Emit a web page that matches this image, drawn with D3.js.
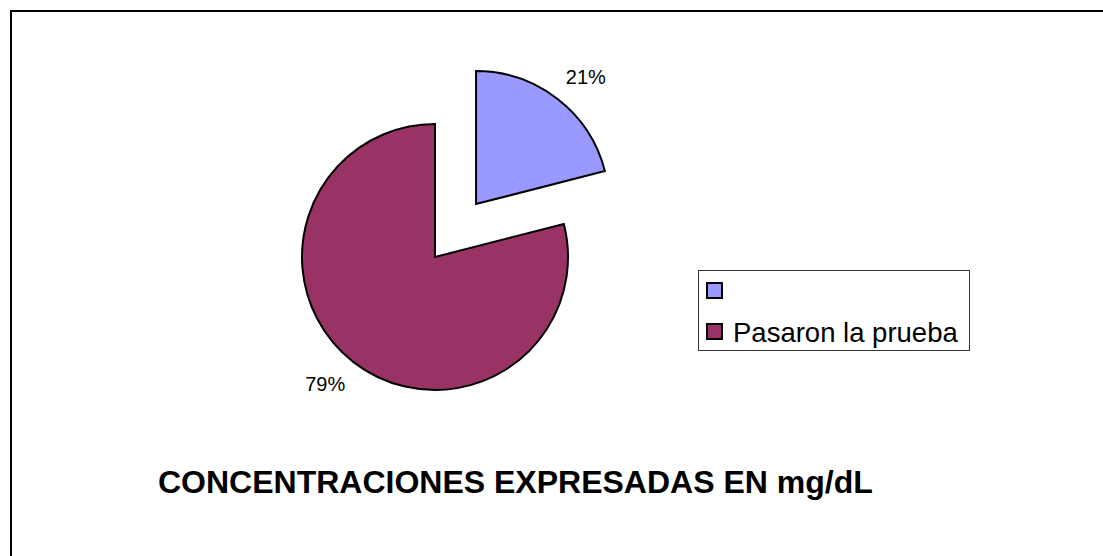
<!DOCTYPE html>
<html lang="es">
<head>
<meta charset="UTF-8">
<title>Concentraciones expresadas en mg/dL</title>
<script src="https://d3js.org/d3.v7.min.js"></script>
<style>
  body { margin: 0; background: #fff; }
  svg { display: block; font-family: Arial, "Liberation Sans", sans-serif; }
</style>
</head>
<body>
<svg width="1103" height="556"></svg>
<script>
  // data
  const categories = ["", "Pasaron la prueba"];
  const values = [21, 79];
  const colors = ["#9999FF", "#993366"];
  const explode = [67, 0];   // pixels the slice is pulled out

  const svg = d3.select("svg");

  // chart frame (runs off the right and bottom edges)
  svg.append("rect")
    .attr("x", 11).attr("y", 11)
    .attr("width", 1200).attr("height", 700)
    .attr("fill", "none").attr("stroke", "#000").attr("stroke-width", 2);

  const cx = 435, cy = 257, r = 133;
  const pie = d3.pie().sort(null).value(d => d)(values);
  const arc = d3.arc().innerRadius(0).outerRadius(r);

  const g = svg.append("g").attr("transform", `translate(${cx},${cy})`);

  const slices = g.selectAll("g.slice")
    .data(pie)
    .enter().append("g")
    .attr("class", "slice")
    .attr("transform", (d, i) => {
      const a = (d.startAngle + d.endAngle) / 2;
      return `translate(${explode[i] * Math.sin(a)},${-explode[i] * Math.cos(a)})`;
    });

  slices.append("path")
    .attr("d", arc)
    .attr("fill", (d, i) => colors[i])
    .attr("stroke", "#000")
    .attr("stroke-width", 2)
    .attr("stroke-linejoin", "miter");

  // labels sit a bit past the mid angle, like the original
  const total = d3.sum(values);
  const labelR = 168, labelShift = 3 * Math.PI / 180;
  slices.append("text")
    .attr("transform", d => {
      const a = (d.startAngle + d.endAngle) / 2 + labelShift;
      return `translate(${labelR * Math.sin(a)},${-labelR * Math.cos(a) + 7})`;
    })
    .attr("text-anchor", "middle")
    .attr("font-size", 20)
    .attr("fill", "#000")
    .text(d => Math.round(d.value / total * 100) + "%");

  // legend
  const lg = svg.append("g").attr("transform", "translate(698,270)");
  lg.append("rect")
    .attr("x", 0.5).attr("y", 0.5)
    .attr("width", 271).attr("height", 80)
    .attr("fill", "#fff").attr("stroke", "#333").attr("stroke-width", 1);

  const item = lg.selectAll("g.item")
    .data(categories)
    .enter().append("g")
    .attr("class", "item")
    .attr("transform", (d, i) => `translate(9,${13 + i * 41})`);

  item.append("rect")
    .attr("width", 15).attr("height", 15)
    .attr("fill", (d, i) => colors[i])
    .attr("stroke", "#000").attr("stroke-width", 2);

  item.append("text")
    .attr("x", 26).attr("y", 18)
    .attr("font-size", 27.5)
    .attr("fill", "#000")
    .text(d => d);

  // title
  svg.append("text")
    .attr("x", 158).attr("y", 493)
    .attr("font-size", 32)
    .attr("font-weight", "bold")
    .attr("fill", "#000")
    .text("CONCENTRACIONES EXPRESADAS EN mg/dL");
</script>
</body>
</html>
